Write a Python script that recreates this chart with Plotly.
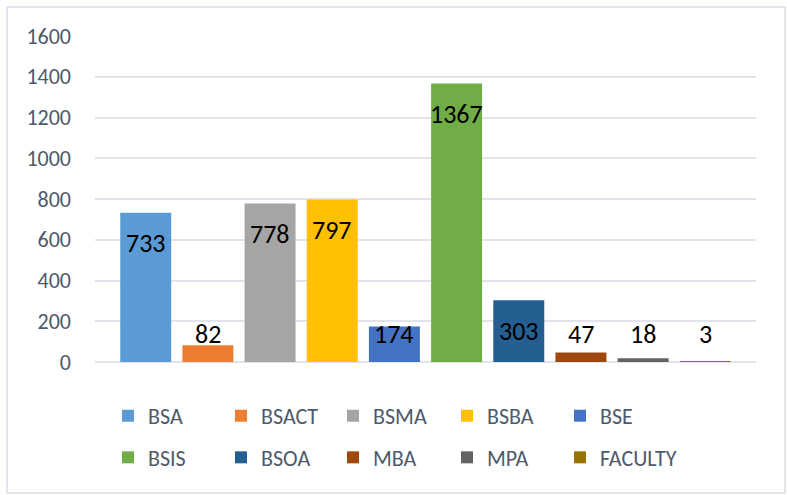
import plotly.graph_objects as go

categories = ["BSA", "BSACT", "BSMA", "BSBA", "BSE", "BSIS", "BSOA", "MBA", "MPA", "FACULTY"]
values = [733, 82, 778, 797, 174, 1367, 303, 47, 18, 3]
colors = ["#5B9BD5", "#ED7D31", "#A5A5A5", "#FFC000", "#4472C4",
          "#70AD47", "#255E91", "#9E480E", "#636363", "#997300"]
tick_vals = [0, 200, 400, 600, 800, 1000, 1200, 1400, 1600]

FONT = "Calibri, Carlito, Lato, sans-serif"
GRAY = "#4E5A6B"

legend_ids = ["legend", "legend2", "legend3", "legend4", "legend5"]

fig = go.Figure()
for i, (c, v, col) in enumerate(zip(categories, values, colors)):
    fig.add_trace(go.Bar(
        x=[c], y=[v], name=c, marker=dict(color=col, line=dict(width=0)),
        legend=legend_ids[i % 5], legendgroup=c,
        hoverinfo="x+y",
    ))

# data labels
for c, v in zip(categories, values):
    ly = max(v - 150, 135)
    fig.add_annotation(x=c, y=ly, text=str(v), showarrow=False,
                       font=dict(family=FONT, size=26, color="#000000"),
                       yanchor="middle", xanchor="center")

# outer border
fig.add_shape(type="rect", xref="paper", yref="paper",
              x0=-0.133, x1=1.044, y0=-0.402, y1=1.089,
              line=dict(color="#D9DEE6", width=1.5), fillcolor="rgba(0,0,0,0)", layer="below")

legend_common = dict(orientation="v", xanchor="left", yanchor="top",
                     font=dict(family=FONT, size=22, color=GRAY),
                     tracegroupgap=10, y=-0.101,
                     bgcolor="rgba(0,0,0,0)", itemsizing="constant")
marker_px = [122, 235, 347, 461, 574]
legends = {}
for lid, mx in zip(legend_ids, marker_px):
    legends[lid] = dict(x=(mx - 14 - 95) / 661, **legend_common)

fig.update_layout(
    width=787, height=495,
    margin=dict(l=95, r=31, t=36, b=133, autoexpand=False),
    paper_bgcolor="white", plot_bgcolor="white",
    barmode="overlay", bargap=0.18,
    font=dict(family=FONT, color=GRAY),
    xaxis=dict(type="category", range=[-0.816, 9.816], showticklabels=False,
               showgrid=False, zeroline=False, showline=False, ticks=""),
    yaxis=dict(range=[0, 1600], tickvals=tick_vals, showgrid=True,
               gridcolor="#E1E5EB", gridwidth=1.5, zeroline=True,
               zerolinecolor="#E1E5EB", zerolinewidth=1.5,
               tickfont=dict(family=FONT, size=22, color=GRAY),
               ticks="", ticklabelstandoff=23),
    **legends,
)

fig.write_html("out.html", config={"displayModeBar": False},
               post_script="document.body.style.margin='0px';")
